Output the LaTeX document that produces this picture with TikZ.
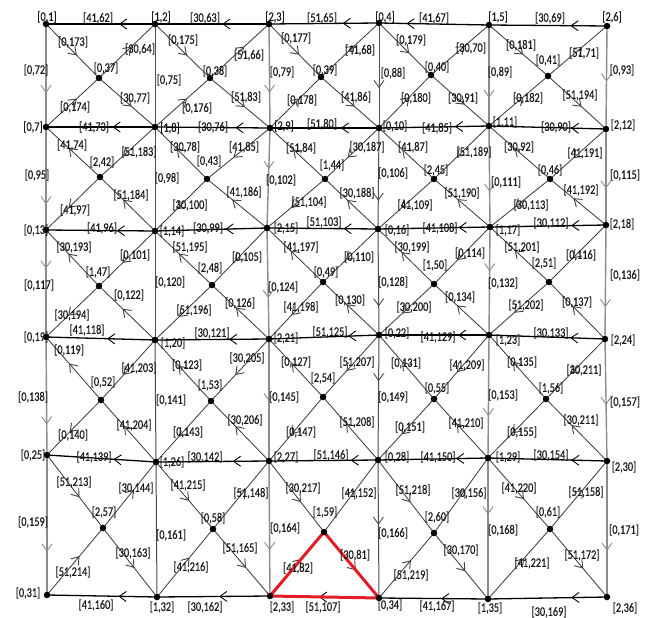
\documentclass[tikz,border=0pt]{standalone}
\usepackage{fontspec}
\setmainfont{Carlito}[FakeStretch=0.79,FakeBold=0.3]
\usetikzlibrary{arrows.meta,decorations.markings}
\pgfdeclarelayer{bg}
\pgfdeclarelayer{edges}
\pgfsetlayers{bg,edges,main}
\definecolor{tri}{RGB}{226,28,34}
\tikzset{
  dot/.style={circle,fill=black,inner sep=0pt,minimum size=6.5pt},
  lab/.style={inner sep=0pt,font=\fontsize{13}{13}\selectfont,text=black!90},
  arr/.style={postaction={decorate,decoration={markings,mark=at position #1 with {\arrow{Straight Barb[length=7pt,width=10pt,line width=0.9pt]}}}}},
  hline/.style={draw=black,line width=1.3pt},
  vlight/.style={draw=black!45,line width=1.4pt},
  vdark/.style={draw=black!70,line width=1pt},
  dline/.style={draw=black!75,line width=0.85pt},
  redtri/.style={draw=tri,line width=3pt,line join=miter}
}
\newcommand\vx[3]{\node[dot] (v#1) at (#2,#3) {};}
\newcommand\lb[4]{\node[lab] (l#2) at (#3,#4) {[#1,#2]};}
\newcommand\he[3]{\draw[hline,arr=#3] (v#1.center) -- (v#2.center);}
\begin{document}
\begin{tikzpicture}[x=1pt,y=-1pt]
\begin{pgfonlayer}{bg}
\fill[white] (0,0) rectangle (648,618);
\end{pgfonlayer}
\useasboundingbox (0,0) rectangle (648,618);
% grid vertices
\vx{1}{46}{24} \vx{2}{155}{24} \vx{3}{269}{24} \vx{4}{379}{23} \vx{5}{489}{25} \vx{6}{607}{26}
\vx{7}{46}{127} \vx{8}{155}{127} \vx{9}{270}{128} \vx{10}{379}{128} \vx{11}{489}{126} \vx{12}{606}{129}
\vx{13}{46}{230} \vx{14}{155}{231} \vx{15}{267}{228} \vx{16}{378}{229} \vx{17}{490}{227} \vx{18}{606}{225}
\vx{19}{46}{337} \vx{20}{155}{340} \vx{21}{269}{339} \vx{22}{379}{335} \vx{23}{489}{335} \vx{24}{605}{339}
\vx{25}{47}{455} \vx{26}{156}{462} \vx{27}{269}{461} \vx{28}{378}{460} \vx{29}{488}{458} \vx{30}{607}{461}
\vx{31}{47}{595} \vx{32}{157}{597} \vx{33}{270}{596} \vx{34}{379}{598} \vx{35}{488}{599} \vx{36}{607}{597}
% centres
\vx{37}{99}{78} \vx{38}{210}{78} \vx{39}{321}{77} \vx{40}{431}{75} \vx{41}{548}{76}
\vx{42}{100}{177} \vx{43}{207}{179} \vx{44}{325}{179} \vx{45}{434}{179} \vx{46}{550}{179}
\vx{47}{99}{286} \vx{48}{212}{285} \vx{49}{323}{282} \vx{50}{434}{284} \vx{51}{549}{282}
\vx{52}{101}{400} \vx{53}{211}{401} \vx{54}{323}{397} \vx{55}{434}{399} \vx{56}{546}{399}
\vx{57}{103}{528} \vx{58}{213}{529} \vx{59}{324}{532} \vx{60}{434}{533} \vx{61}{550}{529}

\begin{pgfonlayer}{edges}
% diagonals
\foreach \r in {0,...,4}{\foreach \c in {0,...,4}{
  \pgfmathtruncatemacro\tl{6*\r+\c+1}
  \pgfmathtruncatemacro\tr{6*\r+\c+2}
  \pgfmathtruncatemacro\bl{6*\r+\c+7}
  \pgfmathtruncatemacro\br{6*\r+\c+8}
  \pgfmathtruncatemacro\cc{37+5*\r+\c}
  \pgfmathtruncatemacro\east{(\r==0)||(\r==4)}
  \ifnum\east=1
    \draw[dline,arr=0.58] (v\tl.center) -- (v\cc.center);
    \draw[dline,arr=0.58] (v\bl.center) -- (v\cc.center);
    \draw[dline,arr=0.58] (v\cc.center) -- (v\tr.center);
    \draw[dline,arr=0.58] (v\cc.center) -- (v\br.center);
  \else
    \draw[dline,arr=0.58] (v\tr.center) -- (v\cc.center);
    \draw[dline,arr=0.58] (v\br.center) -- (v\cc.center);
    \draw[dline,arr=0.58] (v\cc.center) -- (v\tl.center);
    \draw[dline,arr=0.58] (v\cc.center) -- (v\bl.center);
  \fi
}}
% verticals
\draw[vlight,arr=0.67] (v1.center) -- (v7.center);
\draw[vlight,arr=0.75] (v7.center) -- (v13.center);
\draw[vlight,arr=0.36] (v13.center) -- (v19.center);
\draw[vlight,arr=0.74] (v19.center) -- (v25.center);
\draw[vlight,arr=0.69] (v25.center) -- (v31.center);
\draw[vdark] (v2.center) -- (v8.center);
\draw[vdark] (v8.center) -- (v14.center);
\draw[vdark] (v14.center) -- (v20.center);
\draw[vdark] (v20.center) -- (v26.center);
\draw[vdark] (v26.center) -- (v32.center);
\draw[vlight,arr=0.66] (v3.center) -- (v9.center);
\draw[vlight,arr=0.41] (v9.center) -- (v15.center);
\draw[vlight,arr=0.63] (v15.center) -- (v21.center);
\draw[vlight,arr=0.51] (v21.center) -- (v27.center);
\draw[vlight,arr=0.66] (v27.center) -- (v33.center);
\draw[vdark,arr=0.62] (v4.center) -- (v10.center);
\draw[vdark,arr=0.72] (v10.center) -- (v16.center);
\draw[vdark,arr=0.73] (v16.center) -- (v22.center);
\draw[vdark,arr=0.37] (v22.center) -- (v28.center);
\draw[vdark,arr=0.47] (v28.center) -- (v34.center);
\draw[vlight,arr=0.72] (v5.center) -- (v11.center);
\draw[vlight,arr=0.65] (v11.center) -- (v17.center);
\draw[vlight,arr=0.41] (v17.center) -- (v23.center);
\draw[vlight,arr=0.66] (v23.center) -- (v29.center);
\draw[vlight,arr=0.40] (v29.center) -- (v35.center);
\draw[vlight,arr=0.54] (v6.center) -- (v12.center);
\draw[vlight,arr=0.62] (v12.center) -- (v18.center);
\draw[vlight,arr=0.72] (v18.center) -- (v24.center);
\draw[vlight,arr=0.54] (v24.center) -- (v30.center);
\draw[vlight,arr=0.66] (v30.center) -- (v36.center);
% horizontals
\he{2}{1}{0.33} \he{3}{2}{0.41} \he{4}{3}{0.33} \he{5}{4}{0.75} \he{6}{5}{0.31}
\he{8}{7}{0.39} \he{9}{8}{0.30} \he{10}{9}{0.35} \he{11}{10}{0.31} \he{12}{11}{0.30}
\he{14}{13}{0.35} \he{15}{14}{0.37} \he{16}{15}{0.31} \he{17}{16}{0.28} \he{18}{17}{0.30}
\he{20}{19}{0.44} \he{21}{20}{0.35} \he{22}{21}{0.28} \he{23}{22}{0.28} \he{24}{23}{0.30}
\he{26}{25}{0.39} \he{27}{26}{0.32} \he{28}{27}{0.25} \he{29}{28}{0.29} \he{30}{29}{0.30}
\he{32}{31}{0.35} \he{33}{32}{0.45} \he{34}{33}{0.55} \he{35}{34}{0.43} \he{36}{35}{0.30}
% red triangle
\draw[redtri] (v33.center) -- (v59.center) -- (v34.center) -- cycle;
\end{pgfonlayer}

% vertex labels
\lb{0}{1}{47}{17} \lb{1}{2}{161}{17} \lb{2}{3}{275}{17} \lb{0}{4}{385}{17} \lb{1}{5}{498}{17} \lb{2}{6}{612}{17}
\lb{0}{7}{33}{127} \lb{1}{8}{170}{128} \lb{2}{9}{284}{126} \lb{0}{10}{395}{126} \lb{1}{11}{505}{122} \lb{2}{12}{623}{125}
\lb{0}{13}{36}{230} \lb{1}{14}{172}{231} \lb{2}{15}{286}{228} \lb{0}{16}{397}{230} \lb{1}{17}{508}{230} \lb{2}{18}{622}{224}
\lb{0}{19}{36}{337} \lb{1}{20}{173}{343} \lb{2}{21}{286}{338} \lb{0}{22}{397}{333} \lb{1}{23}{508}{340} \lb{2}{24}{623}{340}
\lb{0}{25}{33}{455} \lb{1}{26}{172}{462} \lb{2}{27}{286}{457} \lb{0}{28}{397}{457} \lb{1}{29}{508}{457} \lb{2}{30}{624}{467}
\lb{0}{31}{28}{593} \lb{1}{32}{162}{607} \lb{2}{33}{282}{607} \lb{0}{34}{390}{605} \lb{1}{35}{490}{608} \lb{2}{36}{625}{608}
\lb{0}{37}{106}{68} \lb{0}{38}{215}{71} \lb{0}{39}{325}{70} \lb{0}{40}{437}{67} \lb{0}{41}{548}{60}
\lb{2}{42}{102}{162} \lb{0}{43}{209}{161} \lb{1}{44}{332}{165} \lb{2}{45}{436}{170} \lb{0}{46}{550}{170}
\lb{1}{47}{98}{272} \lb{2}{48}{210}{268} \lb{0}{49}{326}{272} \lb{1}{50}{435}{265} \lb{2}{51}{544}{263}
\lb{0}{52}{103}{382} \lb{1}{53}{210}{385} \lb{2}{54}{323}{378} \lb{0}{55}{437}{388} \lb{1}{56}{551}{388}
\lb{2}{57}{104}{512} \lb{0}{58}{213}{518} \lb{1}{59}{325}{512} \lb{2}{60}{437}{517} \lb{0}{61}{548}{512}
% horizontal edge labels
\lb{41}{62}{98}{18} \lb{30}{63}{205}{18} \lb{51}{65}{322}{18} \lb{41}{67}{434}{18} \lb{30}{69}{550}{18}
\lb{41}{73}{94}{127} \lb{30}{76}{213}{127} \lb{51}{80}{322}{124} \lb{41}{85}{437}{128} \lb{30}{90}{556}{127}
\lb{41}{96}{102}{228} \lb{30}{99}{208}{228} \lb{51}{103}{324}{222} \lb{41}{108}{440}{228} \lb{30}{112}{551}{223}
\lb{41}{118}{87}{330} \lb{30}{121}{212}{333} \lb{51}{125}{330}{332} \lb{41}{129}{438}{337} \lb{30}{133}{551}{333}
\lb{41}{139}{94}{457} \lb{30}{142}{205}{457} \lb{51}{146}{331}{455} \lb{41}{150}{438}{457} \lb{30}{154}{551}{455}
\lb{41}{160}{96}{605} \lb{30}{162}{205}{607} \lb{51}{107}{323}{607} \lb{41}{167}{437}{606} \lb{30}{169}{549}{612}
% vertical edge labels
\lb{0}{72}{36}{70} \lb{0}{95}{37}{175} \lb{0}{117}{39}{285} \lb{0}{138}{33}{397} \lb{0}{159}{33}{522}
\lb{0}{75}{169}{80} \lb{0}{98}{167}{178} \lb{0}{120}{170}{282} \lb{0}{141}{171}{400} \lb{0}{161}{171}{535}
\lb{0}{79}{282}{72} \lb{0}{102}{281}{180} \lb{0}{124}{283}{287} \lb{0}{145}{284}{397} \lb{0}{164}{285}{528}
\lb{0}{88}{393}{73} \lb{0}{106}{393}{173} \lb{0}{128}{393}{282} \lb{0}{149}{393}{397} \lb{0}{166}{393}{533}
\lb{0}{89}{500}{72} \lb{0}{111}{506}{182} \lb{0}{132}{503}{283} \lb{0}{153}{503}{395} \lb{0}{168}{503}{530}
\lb{0}{93}{622}{70} \lb{0}{115}{625}{175} \lb{0}{136}{625}{275} \lb{0}{157}{625}{402} \lb{0}{171}{624}{530}
% diagonal labels row 0
\lb{0}{173}{73}{42} \lb{30}{64}{140}{49} \lb{0}{174}{75}{107} \lb{30}{77}{135}{98}
\lb{0}{175}{183}{40} \lb{51}{66}{249}{55} \lb{0}{176}{197}{108} \lb{51}{83}{246}{97}
\lb{0}{177}{296}{38} \lb{41}{68}{360}{50} \lb{0}{178}{302}{100} \lb{41}{86}{356}{97}
\lb{0}{179}{411}{40} \lb{30}{70}{471}{48} \lb{0}{180}{416}{98} \lb{30}{91}{463}{98}
\lb{0}{181}{521}{45} \lb{51}{71}{584}{53} \lb{0}{182}{528}{98} \lb{51}{194}{580}{95}
% row 1
\lb{41}{74}{72}{145} \lb{51}{183}{139}{152} \lb{41}{97}{75}{210} \lb{51}{184}{131}{195}
\lb{30}{78}{185}{147} \lb{41}{85}{244}{147} \lb{30}{100}{190}{205} \lb{41}{186}{244}{192}
\lb{51}{84}{301}{148} \lb{30}{187}{367}{147} \lb{51}{104}{309}{202} \lb{30}{188}{357}{193}
\lb{41}{87}{413}{147} \lb{51}{189}{474}{152} \lb{41}{109}{415}{205} \lb{51}{190}{462}{193}
\lb{30}{92}{519}{147} \lb{41}{191}{585}{153} \lb{30}{113}{531}{205} \lb{41}{192}{581}{190}
% row 2
\lb{30}{193}{74}{247} \lb{0}{101}{135}{255} \lb{30}{194}{72}{315} \lb{0}{122}{129}{295}
\lb{51}{195}{190}{247} \lb{0}{105}{247}{257} \lb{51}{196}{194}{310} \lb{0}{126}{240}{303}
\lb{41}{197}{301}{247} \lb{0}{110}{359}{257} \lb{41}{198}{301}{307} \lb{0}{130}{350}{300}
\lb{30}{199}{412}{247} \lb{0}{114}{470}{253} \lb{30}{200}{414}{307} \lb{0}{134}{460}{297}
\lb{51}{201}{522}{247} \lb{0}{116}{581}{255} \lb{51}{202}{526}{305} \lb{0}{137}{577}{302}
% row 3
\lb{0}{119}{69}{350} \lb{41}{203}{139}{368} \lb{0}{140}{73}{435} \lb{41}{204}{134}{425}
\lb{0}{123}{187}{365} \lb{30}{205}{247}{358} \lb{0}{143}{188}{432} \lb{30}{206}{245}{420}
\lb{0}{127}{296}{362} \lb{51}{207}{357}{362} \lb{0}{147}{301}{432} \lb{51}{208}{357}{422}
\lb{0}{131}{406}{363} \lb{41}{209}{467}{365} \lb{0}{151}{410}{427} \lb{41}{210}{466}{423}
\lb{0}{135}{522}{362} \lb{30}{211}{584}{370} \lb{0}{155}{522}{432} \lb{30}{211}{581}{420}
% row 4
\lb{51}{213}{74}{482} \lb{30}{144}{136}{488} \lb{51}{214}{73}{572} \lb{30}{163}{133}{553}
\lb{41}{215}{188}{485} \lb{51}{148}{251}{493} \lb{41}{216}{191}{567} \lb{51}{165}{240}{548}
\lb{30}{217}{303}{488} \lb{41}{152}{359}{493} \lb{41}{82}{298}{568} \lb{30}{81}{355}{555}
\lb{51}{218}{413}{490} \lb{30}{156}{469}{493} \lb{51}{219}{411}{575} \lb{30}{170}{461}{550}
\lb{41}{220}{519}{488} \lb{51}{158}{586}{492} \lb{41}{221}{532}{563} \lb{51}{172}{582}{555}
\end{tikzpicture}
\end{document}
